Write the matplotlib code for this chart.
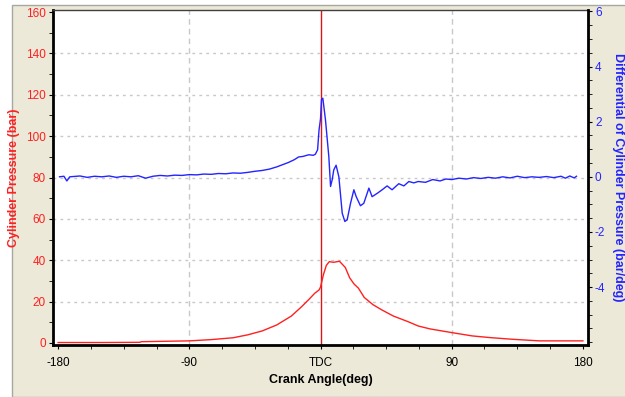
import matplotlib
matplotlib.use("Agg")
import matplotlib.pyplot as plt
from matplotlib.patches import Rectangle
from matplotlib.ticker import MultipleLocator

plt.rcParams['font.family'] = ['Liberation Sans', 'DejaVu Sans']
plt.rcParams['axes.unicode_minus'] = False

# cylinder pressure (bar) vs crank angle (deg)
p_ang = [-180, -150, -124, -123, -90, -75, -60, -50, -40, -30, -20, -13, -8, -4, -1, 0,
         2, 4, 6, 9, 13, 17, 20, 23, 26, 30, 36, 42, 50, 60, 67, 75, 90, 104, 116, 131,
         150, 165, 180]
p_bar = [0.2, 0.2, 0.3, 0.6, 1.0, 1.6, 2.5, 3.9, 5.8, 8.7, 13.0, 17.5, 21.0, 24.0, 25.6, 27.0,
         33.0, 37.5, 39.3, 39.0, 39.5, 36.5, 31.5, 28.5, 26.5, 22.0, 18.5, 16.0, 13.0, 10.3, 8.2,
         6.8, 5.0, 3.4, 2.6, 1.8, 1.0, 1.0, 1.0]

# differential of cylinder pressure (bar/deg)
d_ang = [-179, -176, -174, -172, -165, -160, -155, -150, -145, -140, -135, -130, -125, -120,
         -115, -110, -105, -100, -95, -90, -85, -80, -75, -70, -65, -60, -55, -50, -45, -40,
         -35, -30, -26, -22, -18, -15, -12, -8, -5, -3.5, -2, -1, 0, 0.7, 1.6, 3.4, 5.7, 6.9,
         8.0, 9.1, 10.7, 12.6, 14.9, 16.7, 18.3, 20.6, 22.9, 24.5, 27.4, 29.7, 33.2, 35.4,
         38.9, 42.3, 45.7, 49.1, 53.7, 57.2, 60.6, 64, 67, 72, 77, 82, 86, 90, 95, 100, 105,
         110, 115, 120, 125, 130, 135, 140, 145, 150, 155, 160, 165, 168, 171, 174, 175.6]
d_val = [0.0, 0.02, -0.15, 0.0, 0.03, -0.02, 0.02, 0.0, 0.03, -0.02, 0.02, 0.0, 0.04, -0.05,
         0.02, 0.05, 0.03, 0.06, 0.05, 0.08, 0.07, 0.1, 0.09, 0.12, 0.11, 0.14, 0.13, 0.16, 0.2,
         0.23, 0.28, 0.36, 0.44, 0.52, 0.62, 0.72, 0.74, 0.8, 0.78, 0.82, 0.98, 1.7, 2.1, 2.8,
         2.85, 2.07, 0.74, -0.35, -0.11, 0.25, 0.42, 0.0, -1.32, -1.62, -1.56, -0.96, -0.47,
         -0.72, -1.05, -0.96, -0.41, -0.72, -0.6, -0.47, -0.33, -0.47, -0.25, -0.33, -0.17,
         -0.22, -0.17, -0.2, -0.1, -0.15, -0.08, -0.1, -0.05, -0.08, -0.03, -0.06, -0.02,
         -0.05, 0.0, -0.04, 0.02, -0.03, 0.0, -0.02, 0.01, -0.03, 0.02, -0.05, 0.03, -0.04, 0.02]

x_ticks = [-180, -90, 0, 90, 180]
x_labels = ['-180', '-90', 'TDC', '90', '180']
right_ticks = [-4, -2, 0, 2, 4, 6]

fig = plt.figure(figsize=(6.25, 3.97), dpi=100, facecolor='white')
# beige window panel
fig.patches.append(Rectangle((12 / 625, 0), 1, 1 - 5 / 397, transform=fig.transFigure,
                             facecolor='#ECE9D8', edgecolor='#a8a8a0', lw=1, zorder=-1))

ax = fig.add_axes([53 / 625, 1 - 345 / 397, 535 / 625, 335 / 397])
ax.set_facecolor('white')
ax.plot(p_ang, p_bar, color='#ff2020', lw=1, zorder=3)
ax.axvline(0, color='#d81818', lw=1, zorder=2)
ax.set_xlim(-183.5, 183.5)
ax.set_ylim(-1, 161)
ax.set_xticks(x_ticks)
ax.set_xticklabels(x_labels)
ax.xaxis.set_minor_locator(MultipleLocator(22.5))
ax.yaxis.set_major_locator(MultipleLocator(20))
ax.yaxis.set_minor_locator(MultipleLocator(10))
for v in [20, 40, 60, 80, 100, 120, 140]:
    ax.axhline(v, color='#c8c8c8', lw=1, ls=(0, (2, 3)), zorder=1)
for v in [-90, 90]:
    ax.axvline(v, color='#c8c8c8', lw=1, ls=(0, (4, 3)), zorder=1)
ax.tick_params(axis='y', colors='#ff2020', labelsize=8.5, length=3, direction='out', pad=2)
ax.tick_params(axis='x', colors='black', labelsize=8.5, length=3, direction='out', pad=6)
ax.tick_params(which='minor', length=3, direction='out')
ax.tick_params(axis='y', which='both', color='black')
ax.set_ylabel('Cylinder Pressure (bar)', color='#ff2020', fontsize=9, fontweight='bold')
ax.yaxis.set_label_coords(-0.062, 0.5)
ax.set_xlabel('Crank Angle(deg)', fontsize=9, fontweight='bold', labelpad=3)
for s in ['left', 'bottom']:
    ax.spines[s].set_linewidth(2)
    ax.spines[s].set_color('black')
ax.spines['top'].set_linewidth(1)
ax.spines['top'].set_color('#404040')

ax2 = ax.twinx()
ax2.plot(d_ang, d_val, color='#2424ff', lw=1, zorder=3)
ax2.set_ylim(-6.1, 6.05)
ax2.set_yticks(right_ticks)
ax2.yaxis.set_minor_locator(MultipleLocator(0.5))
ax2.tick_params(axis='y', which='both', colors='#2424ff', labelsize=8.5, length=3,
                direction='out', pad=2)
ax2.tick_params(axis='y', which='both', color='black')
ax2.set_ylabel('Differential of Cylinder Pressure (bar/deg)', color='#2424ff', fontsize=9,
               fontweight='bold', rotation=270, va='center')
ax2.yaxis.set_label_coords(1.057, 0.5)
ax2.spines['right'].set_linewidth(2)
ax2.spines['right'].set_color('black')
ax2.spines['left'].set_visible(False)
ax2.spines['bottom'].set_visible(False)
ax2.spines['top'].set_visible(False)

fig.savefig('out.png', dpi=100, facecolor=fig.get_facecolor())
